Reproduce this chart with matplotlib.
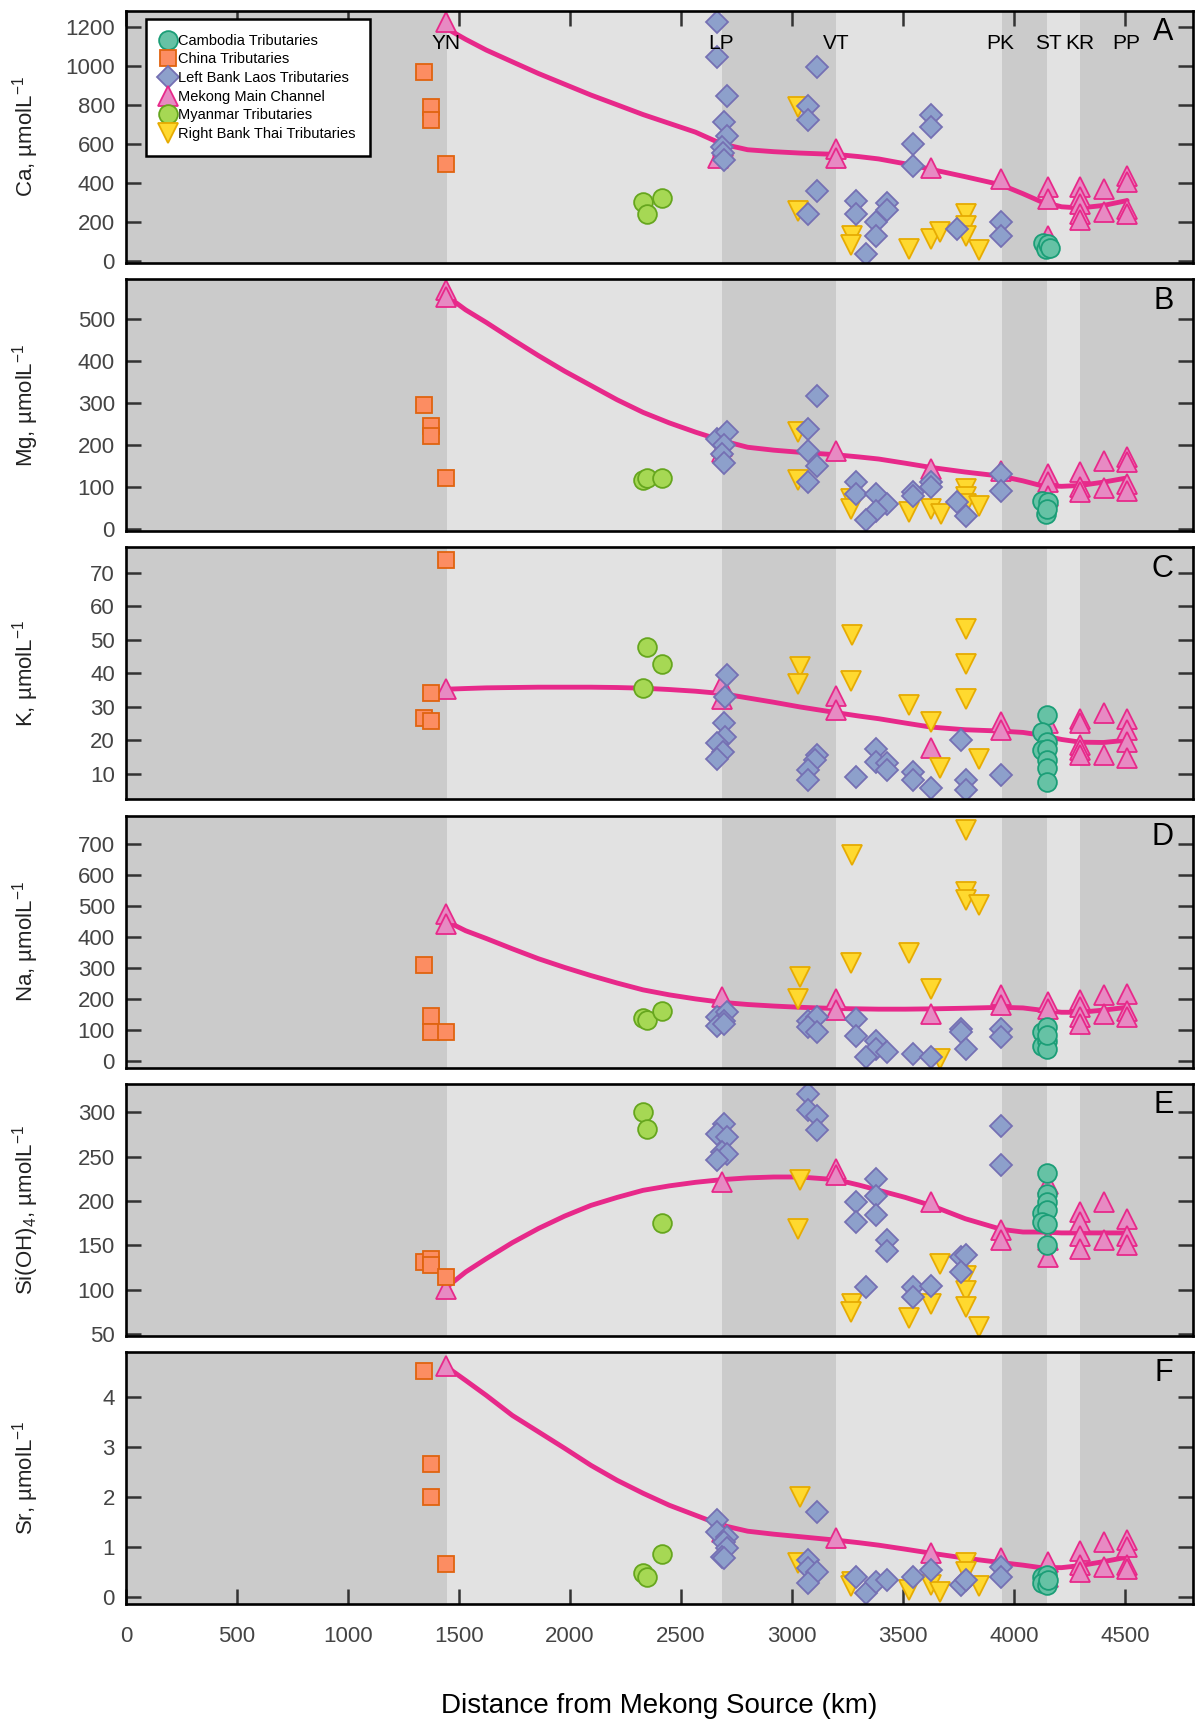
import matplotlib
matplotlib.use("Agg")
import matplotlib.pyplot as plt

plt.rcParams['font.family'] = ['Liberation Sans', 'DejaVu Sans']
plt.rcParams['mathtext.fontset'] = 'custom'
plt.rcParams['mathtext.rm'] = 'Liberation Sans'
plt.rcParams['mathtext.it'] = 'Liberation Sans:italic'
plt.rcParams['mathtext.bf'] = 'Liberation Sans:bold'

# (distance km, concentration)
ca_cambodia = [(4130, 95), (4145, 60), (4155, 90), (4160, 65)]
ca_china = [(1344, 967), (1375, 791), (1375, 720), (1441, 496)]
ca_laos = [(2662, 1226), (2662, 1043), (2709, 847), (2695, 711), (2709, 639), (2683, 583),
           (2690, 555), (2695, 520), (3114, 992), (3074, 796), (3074, 720), (3114, 358),
           (3074, 242), (3288, 310), (3288, 242), (3376, 200), (3427, 297), (3427, 264),
           (3376, 131), (3333, 38), (3543, 600), (3543, 489), (3625, 748), (3625, 685),
           (3743, 162), (3943, 199), (3943, 131)]
ca_mekong = [(1441, 1225), (2665, 530), (2690, 590), (3199, 575), (3199, 527), (3625, 476),
             (3943, 421), (4155, 378), (4155, 319), (4155, 131), (4297, 378), (4297, 327),
             (4297, 293), (4297, 242), (4297, 208), (4406, 370), (4406, 250), (4509, 438),
             (4509, 404), (4509, 268), (4509, 242)]
ca_myanmar = [(2329, 302), (2348, 242), (2412, 322)]
ca_thai = [(3027, 788), (3027, 259), (3272, 131), (3265, 80), (3526, 63), (3625, 114),
           (3665, 148), (3785, 242), (3785, 182), (3785, 131), (3842, 55)]

mg_cambodia = [(4125, 68), (4144, 36), (4155, 64), (4150, 48)]
mg_china = [(1344, 296), (1375, 246), (1375, 221), (1441, 121)]
mg_laos = [(2662, 215), (2709, 232), (2695, 200), (2683, 178), (2695, 158), (3114, 318),
           (3074, 239), (3074, 187), (3114, 151), (3074, 113), (3288, 112), (3288, 84),
           (3376, 84), (3427, 60), (3376, 44), (3333, 21), (3543, 88), (3543, 80),
           (3625, 112), (3625, 100), (3743, 64), (3785, 32), (3943, 131), (3943, 92)]
mg_mekong = [(1441, 570), (1441, 553), (2683, 199), (2683, 183), (3199, 185), (3625, 143),
             (3943, 139), (4155, 131), (4155, 112), (4155, 80), (4297, 135), (4297, 100),
             (4297, 88), (4406, 163), (4406, 97), (4509, 171), (4509, 159), (4509, 108),
             (4509, 92)]
mg_myanmar = [(2329, 116), (2348, 121), (2412, 121)]
mg_thai = [(3027, 231), (3027, 116), (3265, 72), (3265, 48), (3526, 40), (3625, 48),
           (3672, 36), (3785, 96), (3785, 76), (3785, 60), (3842, 56)]

k_cambodia = [(4150, 27.6), (4125, 22.3), (4150, 19.5), (4125, 17), (4150, 17.5),
              (4150, 14.1), (4150, 11.6), (4150, 7.6)]
k_china = [(1441, 73.8), (1375, 34.2), (1344, 26.6), (1375, 25.7)]
k_laos = [(2709, 39.5), (2700, 33), (2695, 25.1), (2700, 21), (2662, 19), (2690, 16.5),
          (2662, 14.5), (3114, 15.5), (3105, 14), (3074, 11.1), (3074, 8.1), (3288, 9.1),
          (3376, 17.5), (3376, 13.6), (3427, 13.1), (3427, 11.1), (3543, 10.6), (3543, 8.1),
          (3625, 5.6), (3759, 20), (3785, 8.1), (3785, 5.1), (3943, 9.6)]
k_mekong = [(1441, 35.3), (2683, 36.8), (2683, 32.4), (3199, 33.2), (3199, 28.9), (3625, 17.7),
            (3943, 25.4), (3943, 23), (4155, 25), (4297, 26.4), (4297, 25), (4297, 18.5),
            (4297, 17), (4297, 15.5), (4406, 28.2), (4406, 15.5), (4509, 26.4), (4509, 23),
            (4509, 19.5), (4509, 14.6)]
k_myanmar = [(2348, 47.9), (2412, 42.8), (2329, 35.6)]
k_thai = [(3036, 41.8), (3027, 36.8), (3272, 51.4), (3265, 37.5), (3526, 30.4), (3625, 25.4),
          (3665, 11.6), (3785, 53.2), (3785, 42.8), (3785, 32.2), (3842, 14.4)]

na_cambodia = [(4125, 94), (4150, 110), (4125, 51), (4150, 67), (4150, 40), (4150, 86)]
na_china = [(1344, 309), (1375, 147), (1375, 94), (1441, 94)]
na_laos = [(2662, 142), (2709, 158), (2695, 131), (2662, 115), (2695, 120), (3074, 131),
           (3114, 142), (3074, 110), (3114, 94), (3288, 137), (3288, 83), (3376, 67),
           (3376, 40), (3427, 29), (3333, 13), (3543, 24), (3625, 13), (3759, 104),
           (3759, 94), (3785, 40), (3943, 104), (3943, 80)]
na_mekong = [(1441, 475), (1441, 443), (2683, 206), (3199, 201), (3199, 166), (3625, 151),
             (3943, 212), (3943, 180), (4155, 190), (4155, 169), (4297, 196), (4297, 174),
             (4297, 142), (4297, 120), (4406, 212), (4406, 153), (4509, 217), (4509, 163),
             (4509, 142)]
na_myanmar = [(2329, 140), (2348, 133), (2412, 163)]
na_thai = [(3036, 271), (3027, 201), (3272, 663), (3265, 316), (3526, 348), (3625, 233),
           (3665, 8), (3785, 744), (3785, 545), (3785, 520), (3842, 502)]

si_cambodia = [(4150, 231), (4150, 208), (4150, 199), (4125, 186), (4150, 190), (4125, 176),
               (4150, 174), (4150, 150)]
si_china = [(1344, 131), (1375, 135), (1375, 128), (1441, 114)]
si_laos = [(2695, 287), (2662, 276), (2709, 272), (2683, 255), (2709, 253), (2662, 246),
           (3074, 321), (3074, 302), (3114, 296), (3114, 280), (3376, 225), (3376, 206),
           (3288, 199), (3288, 176), (3376, 184), (3427, 156), (3427, 144), (3333, 103),
           (3543, 103), (3543, 92), (3625, 104), (3759, 137), (3785, 139), (3759, 120),
           (3943, 285), (3943, 240)]
si_mekong = [(1441, 101), (2683, 221), (3199, 236), (3199, 229), (3625, 199), (3943, 167),
             (3943, 156), (4155, 219), (4155, 156), (4155, 137), (4297, 188), (4297, 176),
             (4297, 161), (4297, 146), (4406, 199), (4406, 156), (4509, 180), (4509, 161),
             (4509, 150)]
si_myanmar = [(2329, 300), (2348, 281), (2412, 175)]
si_thai = [(3036, 224), (3027, 168), (3272, 84), (3265, 75), (3526, 68), (3665, 129),
           (3625, 84), (3785, 116), (3785, 98), (3785, 81), (3842, 58)]

sr_cambodia = [(4125, 0.4), (4150, 0.43), (4125, 0.27), (4150, 0.23), (4155, 0.33)]
sr_china = [(1344, 4.52), (1375, 2.65), (1375, 2.0), (1441, 0.65)]
sr_laos = [(2662, 1.53), (2662, 1.3), (2709, 1.2), (2695, 1.1), (2709, 0.97), (2683, 0.8),
           (2695, 0.77), (3114, 1.7), (3074, 0.73), (3074, 0.57), (3114, 0.5), (3074, 0.27),
           (3288, 0.4), (3333, 0.07), (3376, 0.3), (3427, 0.33), (3543, 0.4), (3625, 0.53),
           (3759, 0.23), (3785, 0.33), (3943, 0.6), (3943, 0.4)]
sr_mekong = [(1441, 4.62), (2683, 1.4), (2683, 1.3), (3199, 1.17), (3625, 0.88), (3943, 0.77),
             (4155, 0.7), (4155, 0.4), (4297, 0.92), (4297, 0.63), (4297, 0.5), (4406, 1.1),
             (4406, 0.59), (4509, 1.13), (4509, 1.0), (4509, 0.63), (4509, 0.55)]
sr_myanmar = [(2329, 0.47), (2348, 0.4), (2412, 0.85)]
sr_thai = [(3036, 2.0), (3027, 0.68), (3272, 0.3), (3265, 0.21), (3526, 0.13), (3625, 0.23),
           (3665, 0.1), (3785, 0.67), (3785, 0.5), (3842, 0.21)]

# main channel trend line, read at these distances
fit_km = [1445, 1530, 1623, 1740, 1858, 1976, 2094, 2212, 2329, 2447, 2565, 2683, 2800, 2918,
          3036, 3199, 3300, 3390, 3510, 3625, 3780, 3943, 4040, 4120, 4214, 4297, 4403, 4509]
ca_fit = [1190, 1135, 1080, 1020, 960, 905, 850, 800, 750, 705, 660, 600, 570, 560,
          553, 546, 535, 523, 498, 470, 432, 390, 345, 305, 278, 272, 285, 310]
mg_fit = [555, 522, 492, 452, 413, 376, 342, 308, 278, 253, 231, 211, 195, 188,
          183, 177, 172, 167, 157, 147, 136, 126, 115, 104, 102, 104, 112, 122]
k_fit = [35.2, 35.4, 35.6, 35.7, 35.8, 35.8, 35.8, 35.7, 35.5, 35.1, 34.6, 33.9, 32.6, 31.3,
         29.9, 28.2, 27.2, 26.4, 25.1, 23.9, 23.1, 22.7, 22.3, 21.5, 20.2, 19.4, 19.3, 20.0]
na_fit = [450, 420, 395, 362, 330, 302, 276, 252, 230, 214, 201, 190, 183, 178,
          174, 170, 169, 168, 168, 169, 171, 174, 172, 165, 158, 158, 165, 174]
si_fit = [103, 120, 135, 153, 169, 183, 195, 204, 212, 217, 221, 224, 226, 227,
          227, 224, 218, 212, 204, 195, 180, 168, 165, 165, 164, 164, 164, 164]
sr_fit = [4.6, 4.33, 4.03, 3.63, 3.3, 2.97, 2.63, 2.33, 2.07, 1.83, 1.63, 1.43, 1.31, 1.25,
          1.2, 1.13, 1.08, 1.03, 0.95, 0.87, 0.77, 0.68, 0.63, 0.58, 0.58, 0.62, 0.7, 0.79]

# reaches along the river and site names
band_edges = [0, 1445, 2685, 3200, 3945, 4150, 4295, 4805]
site_names = ['YN', 'LP', 'VT', 'PK', 'ST', 'KR', 'PP']
site_km = [1441, 2680, 3197, 3937, 4154, 4297, 4504]

panels = [
    ('A', 'Ca, µmolL$^{-1}$', ca_cambodia, ca_china, ca_laos, ca_mekong, ca_myanmar, ca_thai,
     ca_fit, (-10, 1280), [0, 200, 400, 600, 800, 1000, 1200]),
    ('B', 'Mg, µmolL$^{-1}$', mg_cambodia, mg_china, mg_laos, mg_mekong, mg_myanmar, mg_thai,
     mg_fit, (-5, 595), [0, 100, 200, 300, 400, 500]),
    ('C', 'K, µmolL$^{-1}$', k_cambodia, k_china, k_laos, k_mekong, k_myanmar, k_thai,
     k_fit, (2.3, 77.5), [10, 20, 30, 40, 50, 60, 70]),
    ('D', 'Na, µmolL$^{-1}$', na_cambodia, na_china, na_laos, na_mekong, na_myanmar, na_thai,
     na_fit, (-20, 790), [0, 100, 200, 300, 400, 500, 600, 700]),
    ('E', 'Si(OH)$_4$, µmolL$^{-1}$', si_cambodia, si_china, si_laos, si_mekong, si_myanmar,
     si_thai, si_fit, (48, 332), [50, 100, 150, 200, 250, 300]),
    ('F', 'Sr, µmolL$^{-1}$', sr_cambodia, sr_china, sr_laos, sr_mekong, sr_myanmar, sr_thai,
     sr_fit, (-0.15, 4.9), [0, 1, 2, 3, 4]),
]

# label, marker, size, face, edge
styles = {
    'cambodia': ('Cambodia Tributaries', 'o', 13.5, '#66c2a5', '#1b9e77'),
    'china': ('China Tributaries', 's', 12, '#fc8d62', '#e0630f'),
    'laos': ('Left Bank Laos Tributaries', 'D', 11.5, '#8da0cb', '#7570b3'),
    'mekong': ('Mekong Main Channel', '^', 15, '#e78ac3', '#e7298a'),
    'myanmar': ('Myanmar Tributaries', 'o', 13.5, '#a6d854', '#66a61e'),
    'thai': ('Right Bank Thai Tributaries', 'v', 15, '#ffd92f', '#e6ab02'),
}
draw_order = ['mekong', 'thai', 'myanmar', 'china', 'laos', 'cambodia']
legend_order = ['cambodia', 'china', 'laos', 'mekong', 'myanmar', 'thai']

fig, axes = plt.subplots(6, 1, figsize=(12, 17.2), dpi=100, sharex=True)
fig.subplots_adjust(left=0.105, right=0.994, top=0.9936, bottom=0.0674, hspace=0.064)

for i, (ax, p) in enumerate(zip(axes, panels)):
    letter, ylab = p[0], p[1]
    groups = dict(zip(legend_order, p[2:8]))
    fit, ylim, yticks = p[8], p[9], p[10]

    for j in range(len(band_edges) - 1):
        ax.axvspan(band_edges[j], band_edges[j + 1], color='#cbcbcb' if j % 2 == 0 else '#e2e2e2',
                   lw=0, zorder=0)

    ax.plot(fit_km, fit, color='#e7298a', lw=3.5, zorder=2, solid_capstyle='round',
            solid_joinstyle='round')

    handles = {}
    for key in draw_order:
        lab, mk, ms, fc, ec = styles[key]
        xs = [pt[0] for pt in groups[key]]
        ys = [pt[1] for pt in groups[key]]
        h, = ax.plot(xs, ys, ls='none', marker=mk, ms=ms, mfc=fc, mec=ec, mew=1.3,
                     label=lab, zorder=3)
        handles[key] = h

    ax.set_xlim(0, 4805)
    ax.set_ylim(*ylim)
    ax.set_yticks(yticks)
    ax.set_ylabel(ylab, fontsize=16, color='#222222')
    ax.yaxis.set_label_coords(-0.08, 0.5)
    ax.tick_params(axis='y', which='both', direction='in', left=True, right=True,
                   length=11, width=1.8, color='#333333', labelsize=16,
                   labelcolor='#444444', pad=8)
    ax.tick_params(axis='x', direction='in', bottom=False, top=False, labelbottom=False,
                   length=11, width=1.8, color='#333333')
    for s in ax.spines.values():
        s.set_linewidth(1.9)
        s.set_color('black')
        s.set_zorder(5)
    ax.text(0.982, 0.915, letter, transform=ax.transAxes, ha='right', va='center',
            fontsize=22, color='black', zorder=6)

    if i == 0:
        ax.tick_params(axis='x', top=True)
        for name, km in zip(site_names, site_km):
            ax.text(km, 0.872, name, transform=ax.get_xaxis_transform(), ha='center',
                    va='center', fontsize=15, color='black', zorder=6)
        leg = ax.legend([handles[k] for k in legend_order],
                        [styles[k][0] for k in legend_order],
                        loc='upper left', bbox_to_anchor=(0.019, 0.968), borderaxespad=0,
                        fontsize=10.5, frameon=True, fancybox=False, framealpha=1,
                        edgecolor='black', handlelength=1.0, handletextpad=0.15,
                        labelspacing=0.32, borderpad=1.0)
        leg.get_frame().set_linewidth(1.8)
        leg.set_zorder(7)

axes[-1].tick_params(axis='x', bottom=True, labelbottom=True, labelsize=16,
                     labelcolor='#444444', pad=16)
axes[-1].set_xticks([0, 500, 1000, 1500, 2000, 2500, 3000, 3500, 4000, 4500])
axes[-1].set_xlabel('Distance from Mekong Source (km)', fontsize=20, labelpad=33)

fig.savefig('out.png', dpi=100)
